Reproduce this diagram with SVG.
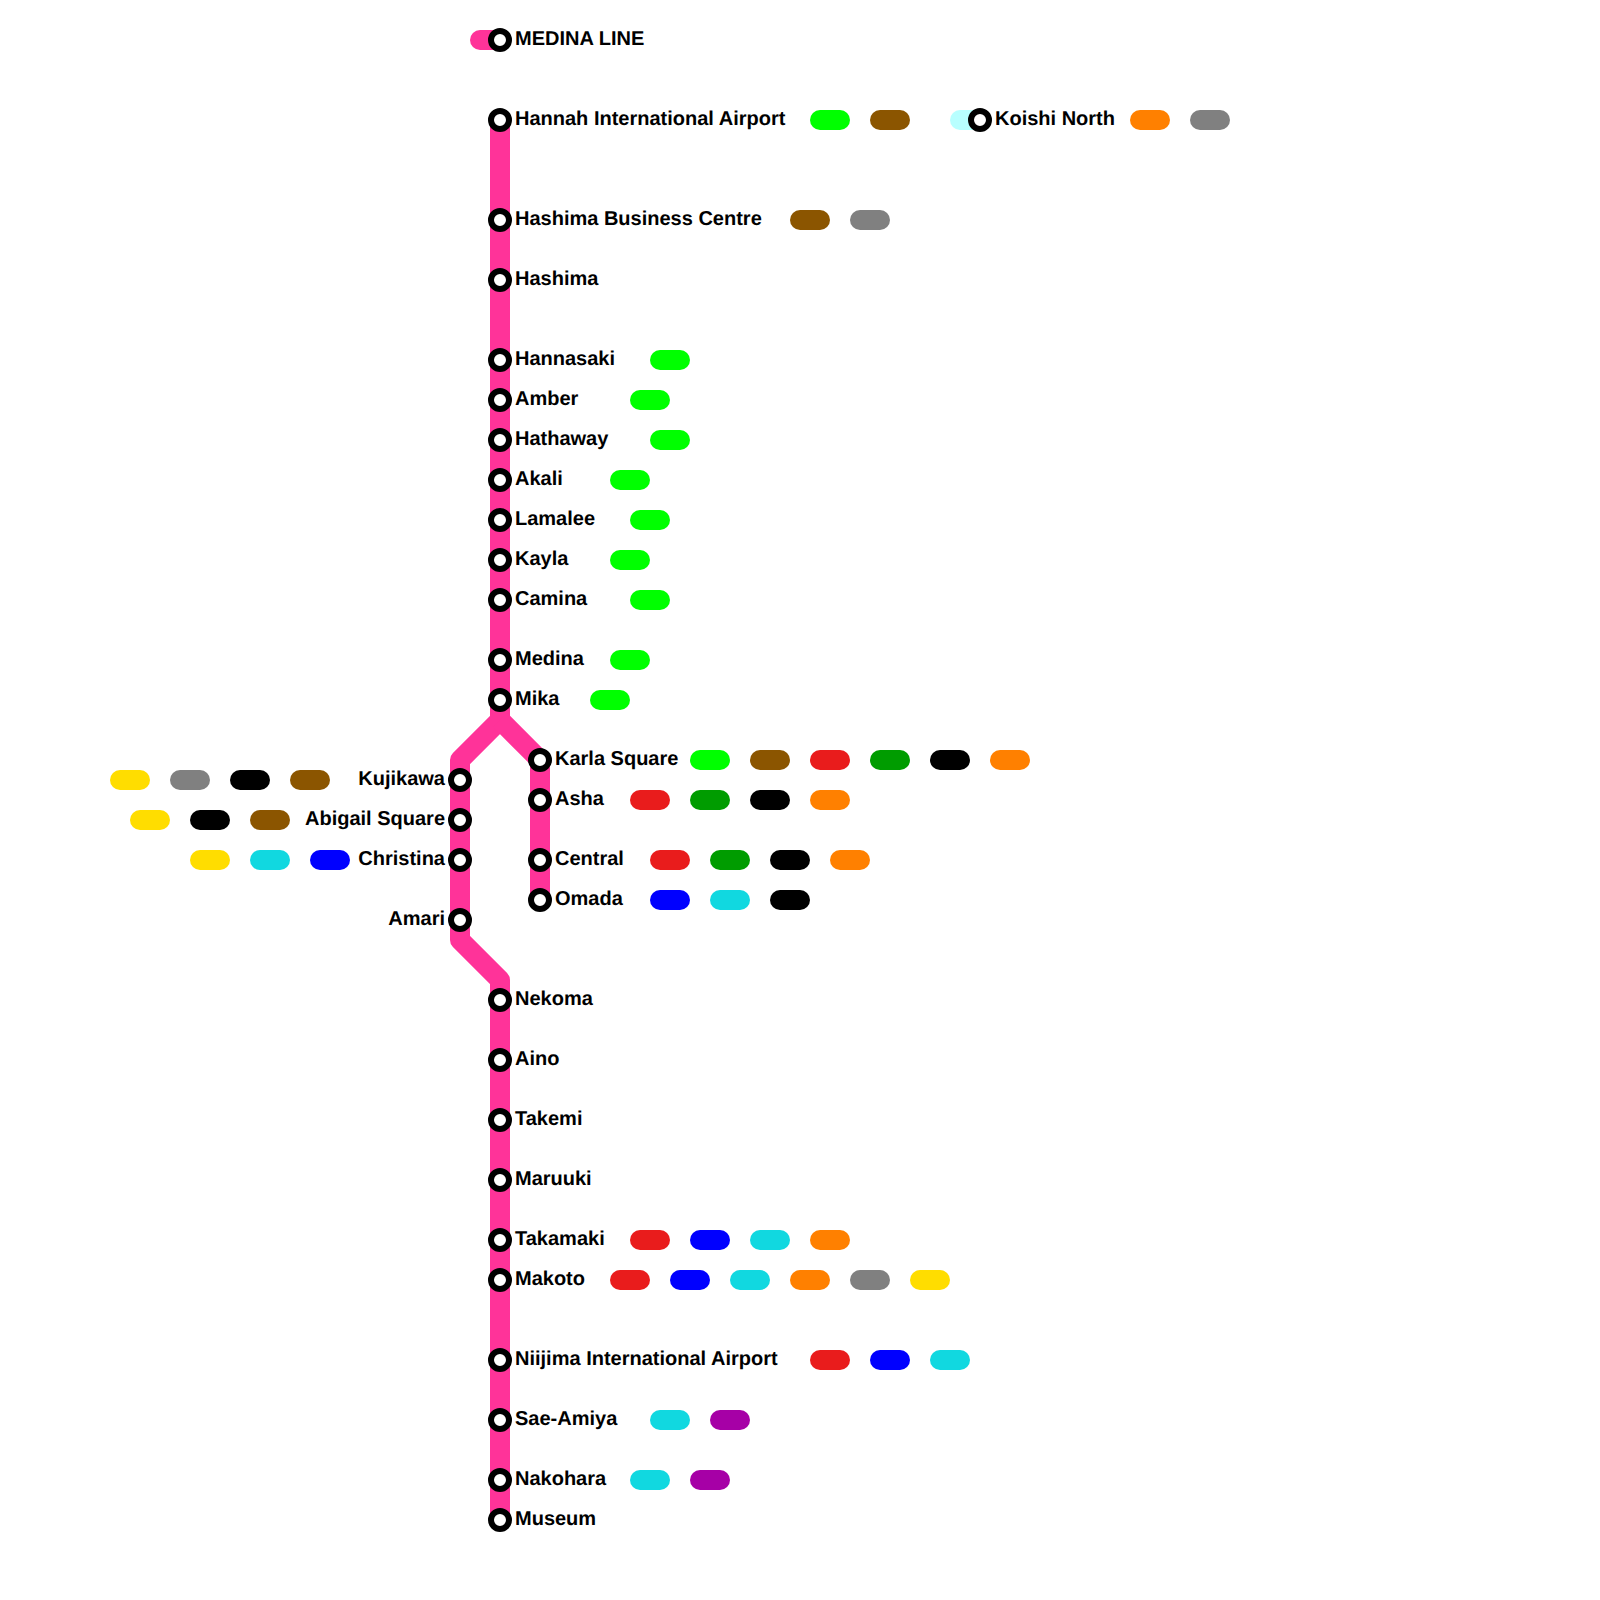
<svg xmlns="http://www.w3.org/2000/svg" width="1600" height="1600" viewBox="0 0 1600 1600">
<style>
text{font-family:"Liberation Sans",Arial,sans-serif;font-size:20px;font-weight:bold;fill:#000;text-rendering:geometricPrecision}
.e{text-anchor:end}
.line{fill:none;stroke:#ff3399;stroke-width:20;stroke-linejoin:round}
.st{fill:#fff;stroke:#000;stroke-width:6}
rect{width:40px;height:20px;rx:10px;ry:10px}
.lime{fill:#00ff00}.brown{fill:#8b5500}.red{fill:#e91c1c}.green{fill:#009c00}.black{fill:#000}.orange{fill:#ff8000}.gray{fill:#808080}.yellow{fill:#ffdd00}.cyan{fill:#11d8e0}.blue{fill:#0000ff}.purple{fill:#a600a6}
</style>
<g id="connectors">
<path class="line" d="M500 120V720L460 760V940L500 980V1520"/>
<path class="line" d="M500 720L540 760V900"/>
<path d="M480 40H500" fill="none" stroke="#ff3399" stroke-width="20" stroke-linecap="round"/>
<path d="M960 120H980" fill="none" stroke="#b8ffff" stroke-width="20" stroke-linecap="round"/>
</g>
<g id="legend"><circle class="st" cx="500" cy="40" r="9"/><text x="515" y="45">MEDINA LINE</text></g>
<g id="hannah"><circle class="st" cx="500" cy="120" r="9"/><text x="515" y="125">Hannah International Airport</text><rect class="lime" x="810" y="110"/><rect class="brown" x="870" y="110"/></g>
<g id="koishi"><circle class="st" cx="980" cy="120" r="9"/><text x="995" y="125">Koishi North</text><rect class="orange" x="1130" y="110"/><rect class="gray" x="1190" y="110"/></g>
<g id="hashimabc"><circle class="st" cx="500" cy="220" r="9"/><text x="515" y="225">Hashima Business Centre</text><rect class="brown" x="790" y="210"/><rect class="gray" x="850" y="210"/></g>
<g id="hashima"><circle class="st" cx="500" cy="280" r="9"/><text x="515" y="285">Hashima</text></g>
<g id="hannasaki"><circle class="st" cx="500" cy="360" r="9"/><text x="515" y="365">Hannasaki</text><rect class="lime" x="650" y="350"/></g>
<g id="amber"><circle class="st" cx="500" cy="400" r="9"/><text x="515" y="405">Amber</text><rect class="lime" x="630" y="390"/></g>
<g id="hathaway"><circle class="st" cx="500" cy="440" r="9"/><text x="515" y="445">Hathaway</text><rect class="lime" x="650" y="430"/></g>
<g id="akali"><circle class="st" cx="500" cy="480" r="9"/><text x="515" y="485">Akali</text><rect class="lime" x="610" y="470"/></g>
<g id="lamalee"><circle class="st" cx="500" cy="520" r="9"/><text x="515" y="525">Lamalee</text><rect class="lime" x="630" y="510"/></g>
<g id="kayla"><circle class="st" cx="500" cy="560" r="9"/><text x="515" y="565">Kayla</text><rect class="lime" x="610" y="550"/></g>
<g id="camina"><circle class="st" cx="500" cy="600" r="9"/><text x="515" y="605">Camina</text><rect class="lime" x="630" y="590"/></g>
<g id="medina"><circle class="st" cx="500" cy="660" r="9"/><text x="515" y="665">Medina</text><rect class="lime" x="610" y="650"/></g>
<g id="mika"><circle class="st" cx="500" cy="700" r="9"/><text x="515" y="705">Mika</text><rect class="lime" x="590" y="690"/></g>
<g id="karla"><circle class="st" cx="540" cy="760" r="9"/><text x="555" y="765">Karla Square</text><rect class="lime" x="690" y="750"/><rect class="brown" x="750" y="750"/><rect class="red" x="810" y="750"/><rect class="green" x="870" y="750"/><rect class="black" x="930" y="750"/><rect class="orange" x="990" y="750"/></g>
<g id="asha"><circle class="st" cx="540" cy="800" r="9"/><text x="555" y="805">Asha</text><rect class="red" x="630" y="790"/><rect class="green" x="690" y="790"/><rect class="black" x="750" y="790"/><rect class="orange" x="810" y="790"/></g>
<g id="central"><circle class="st" cx="540" cy="860" r="9"/><text x="555" y="865">Central</text><rect class="red" x="650" y="850"/><rect class="green" x="710" y="850"/><rect class="black" x="770" y="850"/><rect class="orange" x="830" y="850"/></g>
<g id="omada"><circle class="st" cx="540" cy="900" r="9"/><text x="555" y="905">Omada</text><rect class="blue" x="650" y="890"/><rect class="cyan" x="710" y="890"/><rect class="black" x="770" y="890"/></g>
<g id="kujikawa"><circle class="st" cx="460" cy="780" r="9"/><text class="e" x="445" y="785">Kujikawa</text><rect class="yellow" x="110" y="770"/><rect class="gray" x="170" y="770"/><rect class="black" x="230" y="770"/><rect class="brown" x="290" y="770"/></g>
<g id="abigail"><circle class="st" cx="460" cy="820" r="9"/><text class="e" x="445" y="825">Abigail Square</text><rect class="yellow" x="130" y="810"/><rect class="black" x="190" y="810"/><rect class="brown" x="250" y="810"/></g>
<g id="christina"><circle class="st" cx="460" cy="860" r="9"/><text class="e" x="445" y="865">Christina</text><rect class="yellow" x="190" y="850"/><rect class="cyan" x="250" y="850"/><rect class="blue" x="310" y="850"/></g>
<g id="amari"><circle class="st" cx="460" cy="920" r="9"/><text class="e" x="445" y="925">Amari</text></g>
<g id="nekoma"><circle class="st" cx="500" cy="1000" r="9"/><text x="515" y="1005">Nekoma</text></g>
<g id="aino"><circle class="st" cx="500" cy="1060" r="9"/><text x="515" y="1065">Aino</text></g>
<g id="takemi"><circle class="st" cx="500" cy="1120" r="9"/><text x="515" y="1125">Takemi</text></g>
<g id="maruuki"><circle class="st" cx="500" cy="1180" r="9"/><text x="515" y="1185">Maruuki</text></g>
<g id="takamaki"><circle class="st" cx="500" cy="1240" r="9"/><text x="515" y="1245">Takamaki</text><rect class="red" x="630" y="1230"/><rect class="blue" x="690" y="1230"/><rect class="cyan" x="750" y="1230"/><rect class="orange" x="810" y="1230"/></g>
<g id="makoto"><circle class="st" cx="500" cy="1280" r="9"/><text x="515" y="1285">Makoto</text><rect class="red" x="610" y="1270"/><rect class="blue" x="670" y="1270"/><rect class="cyan" x="730" y="1270"/><rect class="orange" x="790" y="1270"/><rect class="gray" x="850" y="1270"/><rect class="yellow" x="910" y="1270"/></g>
<g id="niijima"><circle class="st" cx="500" cy="1360" r="9"/><text x="515" y="1365">Niijima International Airport</text><rect class="red" x="810" y="1350"/><rect class="blue" x="870" y="1350"/><rect class="cyan" x="930" y="1350"/></g>
<g id="saeamiya"><circle class="st" cx="500" cy="1420" r="9"/><text x="515" y="1425">Sae-Amiya</text><rect class="cyan" x="650" y="1410"/><rect class="purple" x="710" y="1410"/></g>
<g id="nakohara"><circle class="st" cx="500" cy="1480" r="9"/><text x="515" y="1485">Nakohara</text><rect class="cyan" x="630" y="1470"/><rect class="purple" x="690" y="1470"/></g>
<g id="museum"><circle class="st" cx="500" cy="1520" r="9"/><text x="515" y="1525">Museum</text></g>
</svg>
